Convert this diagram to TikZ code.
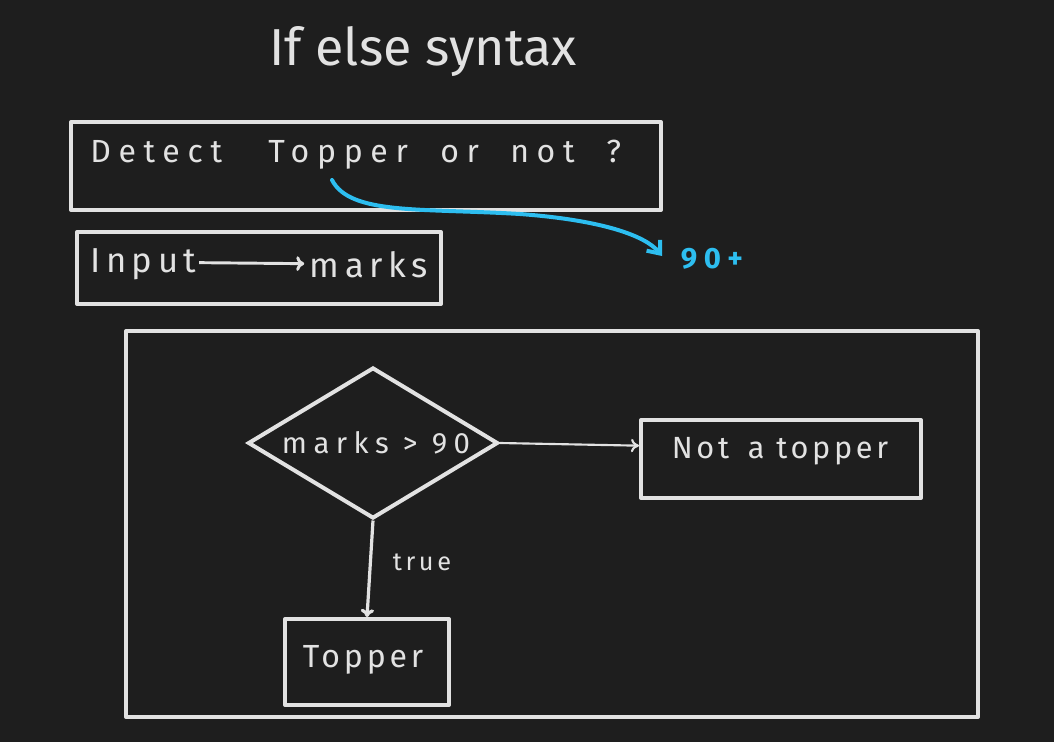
\documentclass[tikz,border=0pt]{standalone}
\usepackage{fontspec}
\setmainfont{Fira Sans}
\usetikzlibrary{shapes.geometric,arrows.meta}
\definecolor{bg}{RGB}{30,30,30}
\definecolor{ink}{RGB}{226,226,226}
\definecolor{sky}{RGB}{45,190,240}
\tikzset{
  box/.style={draw=ink, line width=3pt, line join=round, inner sep=0pt, fill=none},
  hand/.style={text=ink, inner sep=0pt, anchor=center},
  wide/.style={hand, anchor=base west, font=\fontsize{24}{28}\selectfont\addfontfeature{LetterSpace=24}},
  flow/.style={draw=ink, line width=1.6pt, -{To[length=6pt,width=10pt]}},
}
\begin{document}
\begin{tikzpicture}[x=0.75pt,y=-0.75pt]
\fill[bg] (0,0) rectangle (1054,742);
\useasboundingbox (0,0) rectangle (1054,742);
% title
\node[hand, font=\fontsize{39}{44}\selectfont] (title) at (423,52) {If else syntax};
% box 1
\node[box, minimum width=590*0.75pt, minimum height=88*0.75pt] (b1) at (366,166) {};
\node[wide] (w1) at (90,162) {Detect};
\node[wide] (w2) at (268,162) {Topper};
\node[wide] (w3) at (440,162) {or};
\node[wide] (w4) at (510,162) {not};
\node[wide] (w5) at (606,162) {?};
% box 2
\node[box, minimum width=364*0.75pt, minimum height=72*0.75pt] (b2) at (259,268) {};
\node[hand, font=\fontsize{26}{30}\selectfont\addfontfeature{LetterSpace=16}, anchor=west] (in) at (90,264) {Input};
\node[hand, font=\fontsize{26}{30}\selectfont\addfontfeature{LetterSpace=16}, anchor=east] (mk) at (428,265) {marks};
\draw[ink, line width=2.2pt, -{To[length=6pt,width=11pt]}] ([xshift=2pt,yshift=1pt]in.east) -- ([xshift=-4pt,yshift=1pt]mk.west);
% blue curve
\coordinate (c0) at (332,180);
\node[text=sky, inner sep=0pt, font=\fontsize{22}{26}\selectfont\bfseries\addfontfeature{LetterSpace=22}] (n90) at (712,259) {90+};
\coordinate (c1) at (662,256);
\draw[sky, line width=3pt, line cap=round, -{Straight Barb[length=8pt,width=13pt]}]
  (c0) .. controls (350,215) and (420,208) .. (520,214) .. controls (600,220) and (645,235) .. (c1);
% big frame
\node[box, minimum width=852*0.75pt, minimum height=386*0.75pt] (frame) at (552,524) {};
% diamond
\node[draw=ink, line width=3pt, diamond, aspect=1.656, minimum width=250*0.75pt, minimum height=151*0.75pt, inner sep=0pt] (d) at (373,443) {};
\node[hand, font=\fontsize{22}{26}\selectfont\addfontfeature{LetterSpace=22}] (dt) at (376,443) {marks > 90};
% not a topper
\node[box, minimum width=280*0.75pt, minimum height=78*0.75pt] (nt) at (781,459) {};
\node[hand, font=\fontsize{23}{27}\selectfont\addfontfeature{LetterSpace=12}] (ntt) at (780,451) {Not\hspace{14pt}a topper};
% topper
\node[box, minimum width=164*0.75pt, minimum height=86*0.75pt] (tp) at (367,662) {};
\node[hand, font=\fontsize{24}{28}\selectfont\addfontfeature{LetterSpace=12}] (tpt) at (363,660) {Topper};
% connectors
\draw[flow] (d.east) -- ([yshift=-2pt]d.east -| nt.west);
\draw[flow, line width=2.4pt] (d.south) -- (tp.north);
\node[hand, font=\fontsize{19}{22}\selectfont\addfontfeature{LetterSpace=14}] (tl) at (422,562) {true};
\end{tikzpicture}
\end{document}
